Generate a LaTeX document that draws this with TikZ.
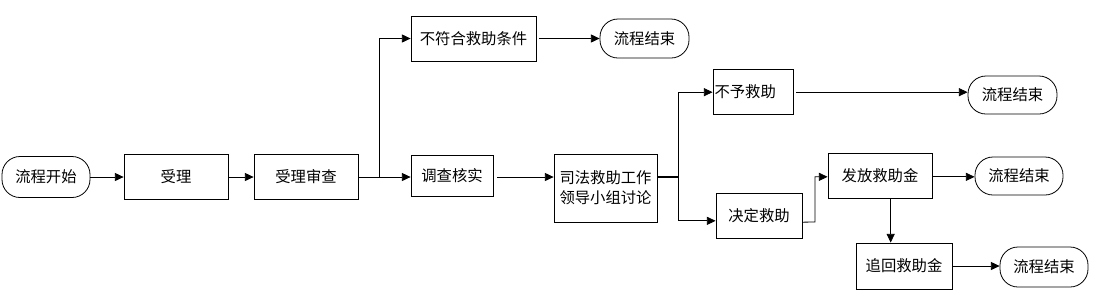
\documentclass[tikz,border=0pt]{standalone}
\usepackage{fontspec}
\newfontfamily\cjk{Noto Sans CJK SC}
\usetikzlibrary{arrows.meta}
\begin{document}
\begin{tikzpicture}[x=0.75pt,y=-0.75pt,
  every node/.style={font=\cjk\fontsize{11.5}{15}\selectfont},
  sz/.style 2 args={minimum width=#1*0.75pt, minimum height=#2*0.75pt, inner sep=0pt},
  box/.style={draw, line width=0.6pt},
  term/.style={draw, line width=0.6pt, rounded corners=13.5pt},
  conn/.style={line width=0.6pt},
  arr/.style={line width=0.6pt, -{Triangle[length=6.5pt,width=6pt]}}]
\useasboundingbox (0,0) rectangle (1109,305);
% nodes
\node[term, sz={88}{41}] (start) at (46,177) {流程开始};
\node[box, sz={104}{45}] (shouli) at (176,177) {受理};
\node[box, sz={104}{45}] (shencha) at (306,177) {受理审查};
\node[box, sz={125}{45}] (buful) at (473.5,38.5) {不符合救助条件};
\node[term, sz={89}{39}] (end1) at (644.5,38.5) {流程结束};
\node[box, sz={82}{41}] (diaocha) at (452,176) {调查核实};
\node[box, sz={103}{68}, align=center] (sifa) at (605.5,188) {司法救助工作\\领导小组讨论};
\node[box, minimum height=45*0.75pt, text width=77*0.75pt, inner xsep=1.5*0.75pt, inner ysep=0pt, align=left] (buyu) at (753,91.5) {不予救助};
\node[term, sz={89}{38}] (end2) at (1012.5,95) {流程结束};
\node[box, sz={86}{45}] (jueding) at (759,215.5) {决定救助};
\node[box, sz={104}{45}] (fafang) at (880,175.5) {发放救助金};
\node[term, sz={88}{38}] (end3) at (1019,176) {流程结束};
\node[box, sz={96}{46}] (zhuihui) at (904,266) {追回救助金};
\node[term, sz={88}{40}] (end4) at (1044,267) {流程结束};
% coordinates
\coordinate (br1) at (379,177);
\coordinate (br2) at (678,177);
\coordinate (bend) at (815,222);
% connectors
\draw[arr] (start) -- (shouli);
\draw[arr] (shouli) -- (shencha);
\draw[conn] (shencha.east) -- (br1);
\draw[arr] (br1) |- (buful.west);
\draw[arr] (br1) -- (br1 -| diaocha.west);
\draw[arr] ([xshift=2pt]buful.east) -- (end1.west);
\draw[arr] ([xshift=3pt]diaocha.east |- br1) -- (br1 -| sifa.west);
\draw[line width=1.2pt] (sifa.east |- br2) -- (br2);
\draw[arr] (br2) |- ([yshift=-0.5pt]buyu.west);
\draw[arr] (br2) |- ([yshift=-4pt]jueding.west);
\draw[arr] ([xshift=2pt,yshift=-0.5pt]buyu.east) -- ([yshift=-0.5pt]buyu.east -| end2.west);
\draw[arr] ([yshift=-5pt]jueding.east) -- (bend) |- ([yshift=-1pt]fafang.west);
\draw[arr] ([yshift=-1pt]fafang.east) -- ([yshift=-1pt]fafang.east -| end3.west);
\draw[arr] ([xshift=8pt]fafang.south) -- ([xshift=8pt]fafang.south |- zhuihui.north);
\draw[arr] (zhuihui.east) -- (zhuihui.east -| end4.west);
\end{tikzpicture}
\end{document}
